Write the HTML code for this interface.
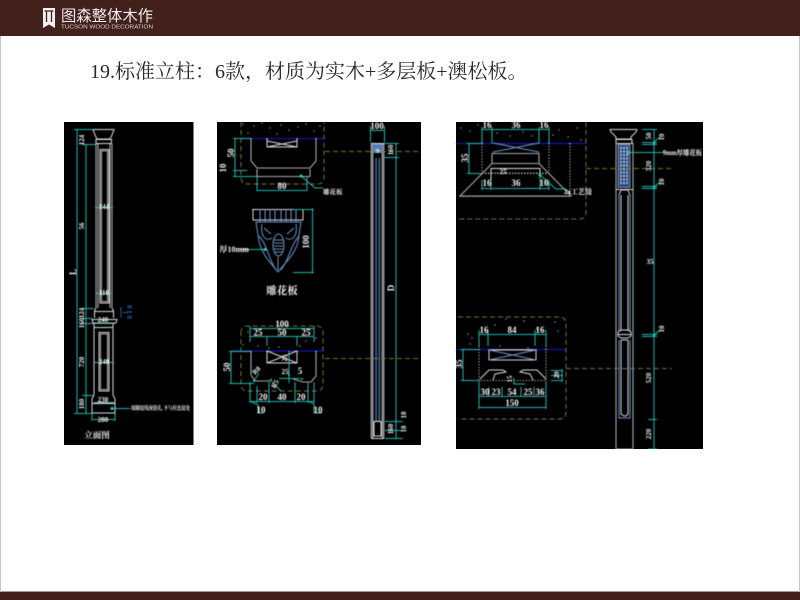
<!DOCTYPE html>
<html lang="zh"><head><meta charset="utf-8"><title>标准立柱</title>
<style>
html,body{margin:0;padding:0;background:#fff}
#p{position:relative;width:800px;height:600px;overflow:hidden;background:#fff}
svg{position:absolute;left:0;top:0}
.c{stroke:#1fb5b0;stroke-width:1;fill:none}
.g{stroke:#a8a8a8;stroke-width:1.1;fill:none}
.w{stroke:#d8d8d8;stroke-width:1;fill:none}
.b{stroke:#6c93cc;stroke-width:1;fill:none}
.bl{stroke:#1515b0;stroke-width:1.2;fill:none}
.y{stroke:#77772c;stroke-width:1;stroke-dasharray:5 3;fill:none}
.d{stroke:#cfcfcf;stroke-width:.8;stroke-dasharray:1.5 1.5;fill:none}
text{font-family:"Liberation Serif","Noto Serif CJK SC",serif;fill:#f2f2f2;text-anchor:middle}
.s{font-size:9px;font-weight:bold}.xs{font-size:7px;font-weight:bold}.l{text-anchor:start}
</style></head><body><div id="p">
<svg width="800" height="600" viewBox="0 0 800 600" xmlns="http://www.w3.org/2000/svg">
<defs><filter id="f" x="0" y="0" width="100%" height="100%"><feGaussianBlur stdDeviation="0.4"/></filter></defs>
<rect width="800" height="36" fill="#42211d"/>
<rect y="592" width="800" height="8" fill="#42211d"/>
<rect y="591" width="800" height="1" fill="#a09a98"/>
<rect y="36" width="1" height="556" fill="#c4c4c4"/><rect x="799" y="36" width="1" height="556" fill="#c4c4c4"/>
<path d="M43 8H55V28L49 24.5L43 28Z" fill="#f4f1ef"/>
<path d="M44.5 11H53.5M46.5 11V22M51.5 11V22" stroke="#42211d" stroke-width="1.3" fill="none"/>
<text x="61" y="21" textLength="92" lengthAdjust="spacingAndGlyphs" class="l" style="font-size:15.5px;fill:#f0ebe8;font-family:'Liberation Sans','Noto Sans CJK SC',sans-serif">图森整体木作</text>
<text x="61" y="28.5" textLength="92" lengthAdjust="spacingAndGlyphs" class="l" style="font-size:5.5px;fill:#d9d2ce;font-family:'Liberation Sans',sans-serif">TUCSON WOOD DECORATION</text>
<text x="90" y="78" class="l" style="font-size:20px;fill:#2a2a2a">19.标准立柱：6款，材质为实木+多层板+澳松板。</text>

<rect x="64" y="122" width="129.500" height="323" fill="#000"/>
<rect x="217" y="122" width="204" height="323" fill="#000"/>
<rect x="456" y="122" width="247" height="327" fill="#000"/>

<g filter="url(#f)">
<!-- panel 1 -->
<g>
<path class="w" d="M93 129.500H114L112 135L110 139H97L95 135Z"/>
<path class="w" d="M96 139.500H111.500V143.500H96Z"/>
<path class="g" d="M96 144V308M112 144V308M98 144V308M110 144V308"/>
<path class="w" d="M100 149.500H109V303H100Z"/>
<path class="g" d="M101.500 151V301.500H107.500V151Z"/>
<path class="w" d="M96 308L94.500 311V318M112 308L113.500 311V318M94.500 311.500H113.500"/>
<path class="w" d="M92 319.500H117L116 323H93Z"/>
<path class="w" d="M94 323V395M113 323V395M94 327.500H113"/>
<path class="w" d="M99 332.500H109V391H99Z"/>
<path class="g" d="M100.500 334V389.500H107.500V334Z"/>
<path class="w" d="M94 395L92 399V413H115V399L113 395M92 403.500H115"/>
<path class="c" d="M77 129V413M86 144V413M74 129.500H93M74 413.500H92M82 144.500H96M82 308.500H94M82 318.500H92M82 323.500H94M82 395.500H94"/>
<path class="c" d="M95 207.500H113M96 293.500H111M95 323.500H115M94 362.500H114M94 402.500H114M93 419.500H115M92 413V421M115 413V421M112 408.500H130" />
<circle cx="112" cy="408.500" r="1.500" fill="#20d0c8"/>
<path stroke="#31569b" fill="none" d="M121 307V318M123 312.500H128"/>
<text class="xs" transform="rotate(-90 84 140)" x="84" y="140">124</text>
<text class="xs" transform="rotate(-90 84 226)" x="84" y="226">56</text>
<text class="s" transform="rotate(-90 76 272)" x="76" y="272">L</text>
<text class="xs" transform="rotate(-90 84 313)" x="84" y="313">124</text>
<text class="xs" transform="rotate(-90 84 323)" x="84" y="323">160</text>
<text class="xs" transform="rotate(-90 84 362)" x="84" y="362">720</text>
<text class="xs" transform="rotate(-90 84 404)" x="84" y="404">180</text>
<text class="xs" x="104" y="209">144</text><text class="xs" x="104" y="295">116</text>
<text class="xs" x="103" y="322">240</text><text class="xs" x="104" y="364">240</text>
<text class="xs" x="103" y="402">230</text><text class="xs" x="103" y="422">280</text>
<text class="xs" style="fill:#36609f" transform="rotate(-90 132 312)" x="132" y="312">0 1 0</text>
<text x="131" y="410" class="l" textLength="59" lengthAdjust="spacingAndGlyphs" style="font-size:5.500px;font-weight:bold">墙脚接线预留孔, 不与柱连接处</text>
<text x="97" y="438" style="font-size:8.500px;font-weight:bold">立面图</text>
</g>

<!-- panel 2 top -->
<g>
<path class="y" d="M241 122V177Q241 184 248 184H317Q324 184 324 177V122"/>
<path class="bl" d="M241 138.500H324"/>
<path class="g" d="M251 138V161L257 168H310L316 161V138"/>
<path class="g" d="M257 169V176.500H310V169"/>
<path class="w" d="M267 138.500V147H297V138.500M267 141L297 147M297 141L267 147" stroke-width=".8"/>
<path class="c" d="M235 138V176M233 138.500H251M233 170.500H247M233 176.500H257M257 177V191M307 177V191M257 190.500H307M301 176L315 188H323"/>
<circle cx="301" cy="176" r="1.500" fill="#20d0c8"/>
<text class="s" transform="rotate(-90 234 153)" x="234" y="153">50</text>
<text class="s" transform="rotate(-90 226 168)" x="226" y="168">10</text>
<text class="s" x="282" y="189">80</text>
<text x="323" y="194" class="l" style="font-size:6.500px;font-weight:bold">雕花板</text>
<g fill="#7f98c8"><circle cx="243" cy="124" r=".7"/><circle cx="254" cy="126" r=".7"/><circle cx="262" cy="123" r=".7"/><circle cx="270" cy="128" r=".7"/><circle cx="281" cy="125" r=".7"/><circle cx="289" cy="130" r=".7"/><circle cx="298" cy="127" r=".7"/><circle cx="306" cy="124" r=".7"/><circle cx="314" cy="131" r=".7"/><circle cx="320" cy="126" r=".7"/><circle cx="248" cy="133" r=".7"/><circle cx="277" cy="134" r=".7"/></g>
<!-- carved panel -->
<path class="w" stroke-width=".8" d="M252 209.500H305M253 209V220H303V209"/>
<path class="b" stroke-width=".7" d="M260 209V222M265 209V222M270 209V222M275 209V222M281 209V222M286 209V222M291 209V222M296 209V222"/>
<path class="b" d="M256 222L258 235C259 246 263 253 268 260L278 272L288 260C294 253 298 246 299 235L301 222H256Z"/>
<path class="b" stroke-width=".8" d="M262 224C260 236 266 242 272 238M296 224C298 236 292 242 286 238M259 236C268 246 268 258 276 270M299 236C290 246 290 258 281 270M264 228L271 234M294 228L287 234"/>
<ellipse cx="278.500" cy="245" rx="5.500" ry="11" class="b" stroke="#8eb0dd"/>
<path stroke="#8eb0dd" stroke-width=".8" d="M274 240H283M274 243H283M274 246H283M274 249H283M275 252H282M278 257V270"/>
<path class="c" d="M293 209.500H313M293 272.500H313M312.500 209V273M240 249.500H265"/>
<circle cx="265" cy="249.500" r="1.500" fill="#20d0c8"/><circle cx="312.500" cy="209.500" r="1" fill="#20d0c8"/><circle cx="312.500" cy="272.500" r="1" fill="#20d0c8"/>
<text class="s" transform="rotate(-90 309 242)" x="309" y="242">100</text>
<text x="219.500" y="252" class="l" style="font-size:8px;font-weight:bold">厚10mm</text>
<text x="282" y="294" style="font-size:10.500px;font-weight:bold">雕花板</text>
</g>

<!-- panel 2 bottom -->
<g>
<path class="y" d="M241 333Q241 326 248 326H316Q323 326 323 333V384Q323 391 316 391H248Q241 391 241 384Z"/>
<path class="bl" d="M231 351H324"/>
<path class="g" d="M251 351V375L255 381H269L272 379M293 379L303 382H311L316 376V351"/>
<path class="w" stroke-width=".8" d="M267 351V363H297V351M267 351L297 363M297 351L267 363"/>
<path class="c" d="M250 328.500H314M250 336.500H314M250 326V342M314 326V342M267 336V346M297 336V346M231 351V383M229 351.500H251M229 383.500H254M289 351V383M279 378.500H300M250 401.500H314M250 382V403M257 386V403M269 382V403M295 382V403M308 382V403M314 382V403M250 401L258 405V413H263M308 401L314 404V413H322M254 381L259 373M271 381L281 391"/>
<circle cx="254" cy="381" r="1" fill="#20d0c8"/><circle cx="289" cy="375" r="1" fill="#20d0c8"/><circle cx="302" cy="379" r="1" fill="#20d0c8"/>
<g fill="#7a90c0"><circle cx="248" cy="332" r=".7"/><circle cx="250" cy="340" r=".7"/><circle cx="258" cy="346" r=".7"/><circle cx="269" cy="348" r=".8"/><circle cx="279" cy="347" r=".8"/><circle cx="300" cy="346" r=".8"/><circle cx="306" cy="341" r=".7"/><circle cx="316" cy="338" r=".8"/><circle cx="243" cy="345" r=".7"/><circle cx="310" cy="330" r=".7"/></g>
<text class="s" x="282" y="327">100</text>
<text class="s" x="258" y="335.500">25</text><text class="s" x="282" y="335.500">50</text><text class="s" x="306" y="335.500">25</text>
<text class="s" transform="rotate(-90 230 367)" x="230" y="367">50</text>
<text class="xs" transform="rotate(-90 287 358)" x="287" y="358">25</text>
<text class="xs" x="285" y="374">25</text><text class="s" x="300" y="374">5</text>
<text class="xs" transform="rotate(-45 258 372)" x="258" y="372">R8</text>
<text class="xs" transform="rotate(-60 277 385)" x="277" y="385">R5</text>
<text class="s" x="263" y="400">20</text><text class="s" x="282" y="400">40</text><text class="s" x="301" y="400">20</text>
<text class="s" x="261" y="413">10</text><text class="s" x="318" y="413">10</text>
</g>

<!-- panel 2 column -->
<g>
<path d="M372 143V438M383 143V438" stroke="#8a8a8a" stroke-width="3" fill="none"/>
<path d="M376 158V421M379.500 158V421" stroke="#5f86c4" fill="none"/>
<path d="M377.800 158V421" stroke="#10203a" fill="none"/>
<path class="w" d="M371 143.500H384M371 438.500H384M374 421.500H381V436H374Z" stroke-width=".8"/>
<rect x="373" y="144" width="9" height="9" fill="#4f7ec0"/>
<circle cx="377.500" cy="151" r="2" fill="#bcd3ea"/>
<path class="y" d="M325 151.500H418M325 358.500H418"/>
<path class="c" d="M396 143V438M370 130.500H385M370.500 126V142M384.500 126V142M384 143.500H399M384 157.500H399M385 421.500H403M385 430.500H403M385 438.500H403"/>
<text class="s" x="377" y="129">100</text>
<text class="xs" transform="rotate(-90 393 150)" x="393" y="150">160</text>
<text class="s" transform="rotate(-90 394 288)" x="394" y="288">D</text>
<text class="xs" transform="rotate(-90 406 415)" x="406" y="415">18</text>
<text class="xs" transform="rotate(-90 406 429)" x="406" y="429">18</text>
<text class="xs" transform="rotate(-90 393 429)" x="393" y="429">160</text>
</g>

<!-- panel 3 top -->
<g>
<path class="y" d="M586 122V212Q586 219 579 219H458"/>
<path class="bl" d="M456 143.500H586"/>
<path class="d" d="M482 143V173H549V143M460 196.500H570V143M482 173.500H549"/>
<path class="g" d="M492 163.500H539L571 196H460L492 163.500ZM492 153.500H539V163.500H492Z" stroke-width=".9"/>
<path class="b" stroke-width=".7" d="M493 143L539 152M539 143L493 152"/>
<path class="w" d="M491 187V168.500H540V187" stroke-width=".8"/>
<path class="c" d="M482 129.500H549M482 188.500H549M482 127V143M492 127V143M539 127V143M549 127V143M491 180V190M540 175V190M549 180V190M482 180V190M469 143V173.500M467 143.500H482M467 173.500H482M505 169.500H507M540 175L556 189H565"/>
<circle cx="540" cy="175" r="1.500" fill="#20d0c8"/>
<text class="s" x="487" y="128">16</text><text class="s" x="516" y="128">36</text><text class="s" x="544" y="128">16</text>
<text class="s" x="487" y="186">16</text><text class="s" x="516" y="186">36</text><text class="s" x="544" y="186">16</text>
<text class="s" transform="rotate(-90 468 158)" x="468" y="158">35</text>
<text class="xs" x="503" y="174">25</text>
<text x="564" y="194" class="l" style="font-size:7px;font-weight:bold">2x工艺缝</text>
<g fill="#7f98c8"><circle cx="461" cy="128" r=".7"/><circle cx="470" cy="131" r=".7"/><circle cx="478" cy="125" r=".7"/><circle cx="497" cy="133" r=".7"/><circle cx="510" cy="136" r=".7"/><circle cx="523" cy="132" r=".7"/><circle cx="532" cy="136" r=".7"/><circle cx="553" cy="135" r=".8"/><circle cx="559" cy="130" r=".7"/><circle cx="568" cy="137" r=".7"/><circle cx="577" cy="128" r=".7"/><circle cx="581" cy="140" r=".7"/></g>
</g>

<!-- panel 3 bottom -->
<g>
<path class="y" d="M458 317H559Q566 317 566 324V412Q566 419 559 419H458"/>
<path class="bl" d="M456 349.500H566"/>
<path class="d" d="M479 334V380.500H546V334"/>
<path class="w" stroke-width=".9" d="M489 350H536V360H489Z"/>
<path class="b" stroke-width=".7" d="M489 350L536 360M536 350L489 360"/>
<path class="w" stroke-width=".9" d="M480 379L489 370H503L506 372L495 374L493 380M546 379L537 370H523L520 372L530 374L533 380"/>
<path class="c" d="M479 334.500H546M479 330V346M488 330V346M535 330V346M546 330V346M463 349V380.500M461 349.500H479M461 380.500H479M479 396.500H546M479 381V409M489 387V397M502 387V397M521 387V397M534 387V397M546 381V409M479 407.500H546M551 370.500H563M551 375.500H563M551 380.500H563M562 369V382M514 378V384H525"/>
<g fill="#7f98c8"><circle cx="468" cy="334" r=".8"/><circle cx="472" cy="338" r=".7"/><circle cx="495" cy="325" r=".8"/><circle cx="506" cy="319" r=".7"/><circle cx="524" cy="321" r=".8"/><circle cx="537" cy="329" r=".7"/><circle cx="555" cy="322" r=".7"/><circle cx="558" cy="331" r=".7"/><circle cx="500" cy="346" r=".7"/><circle cx="528" cy="348" r=".8"/><circle cx="470" cy="344" r=".7"/></g>
<text class="s" x="484" y="333">16</text><text class="s" x="512" y="333">84</text><text class="s" x="540" y="333">16</text>
<text class="s" transform="rotate(-90 462 364)" x="462" y="364">35</text>
<text class="xs" transform="rotate(-90 512 379)" x="512" y="379">15</text>
<text class="s" x="485" y="395">30</text><text class="s" x="496" y="395">23</text><text class="s" x="512" y="395">54</text><text class="s" x="528" y="395">25</text><text class="s" x="540" y="395">36</text>
<text class="s" x="512" y="406">150</text>
<text class="xs" transform="rotate(-90 559 375)" x="559" y="375">20</text>
</g>

<!-- panel 3 column -->
<g>
<path class="w" d="M610 129.500H637L636 132L631 137V139H616V137L611 132Z"/>
<path class="w" d="M616 139.500H632V143.500H616Z"/>
<path class="g" d="M616 143V449M633 143V449M616 449H633"/>
<rect x="618" y="144.500" width="12" height="43" fill="#2b4c80" stroke="#8aa7d0" stroke-width=".7"/>
<path stroke="#b9cfe6" stroke-width="1.200" stroke-dasharray="2 1.500" fill="none" d="M621 147V185M624 147V185M627 147V185"/>
<path class="w" d="M616 189.500H633M619 195L621 190H628L630 195" stroke-width=".8"/>
<path class="b" d="M619 195V331M630 195V331"/>
<path class="w" stroke-width=".7" d="M621 195V331M628 195V331"/>
<path class="w" stroke-width=".9" d="M618 332L621 330H628L631 332V336L628 338H621L618 336ZM618 334.500H631"/>
<path class="b" d="M619 340V418H630V340"/>
<path class="w" stroke-width=".7" d="M621 340V414L624 416H626L628 414V340M621 340H628"/>
<path class="y" d="M586 168.500H672M566 368.500H672"/>
<path class="c" d="M654 129V449M642 129.500H657M642 142.500H657M642 144.500H657M642 186.500H657M642 188.500H657M642 334.500H657M642 336.500H657M648 419.500H657M648 449H657M628 152.500H664M654 142L660 137M654 187L660 182M654 335L660 330"/>
<circle cx="628" cy="152.500" r="1.500" fill="#20d0c8"/><circle cx="654" cy="143.500" r="1.200" fill="#20d0c8"/><circle cx="654" cy="187.500" r="1.200" fill="#20d0c8"/><circle cx="654" cy="335.500" r="1.200" fill="#20d0c8"/>
<text class="xs" transform="rotate(-90 651 136)" x="651" y="136">50</text>
<text class="xs" transform="rotate(-90 664 137)" x="664" y="137">10</text>
<text class="xs" transform="rotate(-90 651 166)" x="651" y="166">320</text>
<text class="xs" transform="rotate(-90 664 182)" x="664" y="182">10</text>
<text class="xs" x="650" y="264">35</text>
<text class="xs" transform="rotate(-90 664 329)" x="664" y="329">10</text>
<text class="xs" transform="rotate(-90 651 378)" x="651" y="378">520</text>
<text class="xs" transform="rotate(-90 651 434)" x="651" y="434">220</text>
<text x="663" y="155" class="l" textLength="39" lengthAdjust="spacingAndGlyphs" style="font-size:7px;font-weight:bold">9mm厚雕花板</text>
</g>
</g>
</svg>
</div></body></html>
